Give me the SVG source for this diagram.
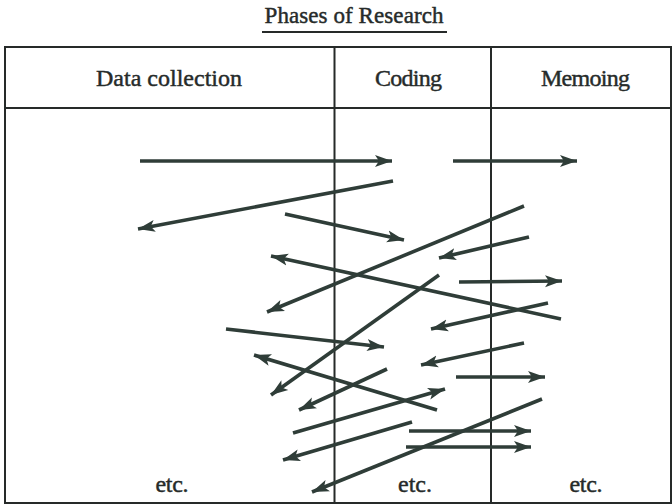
<svg xmlns="http://www.w3.org/2000/svg" width="672" height="504" viewBox="0 0 672 504">
<style>
.t{font-family:"Liberation Serif","DejaVu Serif",serif;fill:#262b2a;stroke:#262b2a;stroke-width:0.45}
.h{font-size:24px}
.e{font-size:24px}
.grid line{stroke:#262a29;stroke-width:2}
.arr line{stroke:#2f3d38;stroke-width:3.6;stroke-linecap:butt;marker-end:url(#ah)}
</style>
<defs>
<marker id="ah" markerUnits="userSpaceOnUse" markerWidth="20" markerHeight="14" refX="17" refY="7" orient="auto">
<path d="M0,1 L17,7 L0,13 L4,7 Z" fill="#2f3d38"/>
</marker>
</defs>
<rect width="672" height="504" fill="#ffffff"/>
<g id="title">
<text class="t" x="354" y="23" font-size="23" text-anchor="middle" textLength="179">Phases of Research</text>
<line x1="262" y1="32" x2="447" y2="32" stroke="#262a29" stroke-width="2"/>
</g>
<g id="table" class="grid">
<line x1="4" y1="47" x2="672" y2="47"/>
<line x1="4" y1="108" x2="672" y2="108"/>
<line x1="4" y1="503" x2="672" y2="503"/>
<line x1="5" y1="46" x2="5" y2="504"/>
<line x1="334.5" y1="47" x2="334.5" y2="503"/>
<line x1="491" y1="47" x2="491" y2="503"/>
<line x1="671" y1="47" x2="671" y2="503"/>
</g>
<g id="col-data">
<text class="t h" x="169" y="86" text-anchor="middle" textLength="146">Data collection</text>
<text class="t e" x="172" y="492" text-anchor="middle" textLength="33">etc.</text>
</g>
<g id="col-coding">
<text class="t h" x="408.5" y="86" text-anchor="middle" textLength="67">Coding</text>
<text class="t e" x="415" y="492" text-anchor="middle" textLength="34">etc.</text>
</g>
<g id="col-memoing">
<text class="t h" x="585.5" y="86" text-anchor="middle" textLength="89">Memoing</text>
<text class="t e" x="586" y="492" text-anchor="middle" textLength="33">etc.</text>
</g>
<g id="connectors" class="arr">
<line x1="140" y1="161" x2="392" y2="161"/>
<line x1="393" y1="181" x2="138" y2="229"/>
<line x1="285" y1="214" x2="404" y2="240"/>
<line x1="453" y1="161" x2="577" y2="161"/>
<line x1="524" y1="206" x2="267" y2="312"/>
<line x1="529" y1="237" x2="439" y2="258"/>
<line x1="561" y1="319" x2="271" y2="256"/>
<line x1="459" y1="282" x2="562" y2="281"/>
<line x1="439" y1="275" x2="271" y2="395"/>
<line x1="548" y1="303" x2="431" y2="329"/>
<line x1="226" y1="329" x2="384" y2="347"/>
<line x1="524" y1="343" x2="421" y2="365"/>
<line x1="437" y1="410" x2="254" y2="355"/>
<line x1="456" y1="377" x2="545" y2="377"/>
<line x1="387" y1="369" x2="299" y2="410"/>
<line x1="293" y1="433" x2="445" y2="389"/>
<line x1="542" y1="399" x2="312" y2="492"/>
<line x1="412" y1="422" x2="283" y2="460"/>
<line x1="409" y1="431" x2="531" y2="431"/>
<line x1="406" y1="447" x2="531" y2="447"/>
</g>
</svg>
